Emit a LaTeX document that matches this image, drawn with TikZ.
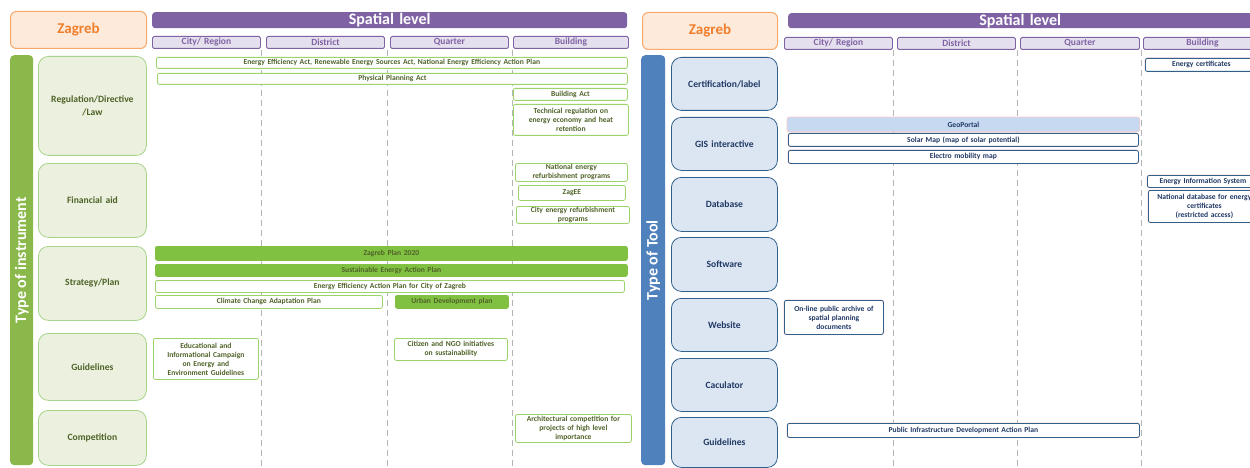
\documentclass[tikz,border=0pt]{standalone}
\usepackage{fontspec}
\setmainfont{Carlito}
\usepackage{xcolor}
\usetikzlibrary{calc}
\definecolor{zorange}{HTML}{F9A86A}
\definecolor{zorangel}{HTML}{FDEADB}
\definecolor{zorangetxt}{HTML}{F07F2C}
\definecolor{spurple}{HTML}{7F62A4}
\definecolor{spurplel}{HTML}{E5E0EE}
\definecolor{ibar}{HTML}{8AB84A}
\definecolor{irowfill}{HTML}{EBF1DE}
\definecolor{irowdraw}{HTML}{A5D38A}
\definecolor{itext}{HTML}{4F6228}
\definecolor{iitem}{HTML}{9BD46A}
\definecolor{ifill}{HTML}{80C141}
\definecolor{tbar}{HTML}{4F81BD}
\definecolor{trowfill}{HTML}{DCE6F2}
\definecolor{trowdraw}{HTML}{31608A}
\definecolor{ttext}{HTML}{1F3864}
\definecolor{tgeo}{HTML}{C6D9F1}
\definecolor{dashgray}{HTML}{B5B5B5}

\begin{document}
\begin{tikzpicture}[x=1pt,y=-1pt,
		every node/.style={inner sep=0pt, align=center},
		sz/.style 2 args={minimum width=#1pt, text width=#1pt, minimum height=#2pt, anchor=north west},
		city/.style={draw=zorange, fill=zorangel, line width=1pt, rounded corners=6pt, text=zorangetxt, font=\fontsize{15}{17}\selectfont\bfseries},
		level/.style={fill=spurple, rounded corners=3pt, text=white, font=\fontsize{16}{17}\selectfont\bfseries},
		colhead/.style={draw=spurple, fill=spurplel, line width=0.9pt, rounded corners=1.5pt, text=spurple, font=\fontsize{9.5}{10}\selectfont\bfseries},
		sidebar/.style={rounded corners=4pt},
		sidetext/.style={rotate=90, text=white, font=\fontsize{16}{17}\selectfont\bfseries},
		irow/.style={draw=irowdraw, fill=irowfill, line width=0.8pt, rounded corners=10pt, text=itext, font=\fontsize{9.6}{12.5}\selectfont\bfseries},
		iitm/.style={draw=iitem, fill=white, line width=0.8pt, rounded corners=2pt, text=itext, font=\fontsize{7.6}{9}\selectfont\bfseries},
		ifull/.style={iitm, draw=ifill, fill=ifill},
		trow/.style={draw=trowdraw, fill=trowfill, line width=0.8pt, rounded corners=10pt, text=ttext, font=\fontsize{9.6}{12.5}\selectfont\bfseries},
		titm/.style={preaction={draw=red!20, line width=1.5pt}, draw=trowdraw, fill=white, line width=0.8pt, rounded corners=2pt, text=ttext, font=\fontsize{7.6}{9}\selectfont\bfseries},
		tfull/.style={titm, preaction={}, draw=none, fill=tgeo},
		dashline/.style={draw=dashgray, dash pattern=on 6pt off 4pt, line width=0.6pt}]
	\clip (0,0) rectangle (1250,468);
	\useasboundingbox (0,0) rectangle (1250,468);
	
	\foreach \x in {261,387,512,893,1017,1141}{
		\draw[dashline] (\x,50) -- (\x,468);}
	
	\node[city, sz={136}{37}] (zl) at (10,11) {Zagreb};
	\node[level, sz={475}{16}] (sl) at (152,12) {Spatial level};
	\node[colhead, sz={108}{12}] (crl) at (152,36) {City/ Region};
	\node[colhead, sz={118}{12}] (dil) at (266,36) {District};
	\node[colhead, sz={118}{12}] (qul) at (390,36) {Quarter};
	\node[colhead, sz={115}{12}] (bul) at (513,36) {Building};
	
	\node[sidebar, fill=ibar, sz={23}{410}] (ibar) at (10,55) {};
	\node[sidetext] (itype) at (ibar.center) {Type of instrument};
	
	\node[irow, sz={108}{99}] (reg) at (38,56) {Regulation/Directive\\/Law};
	\node[irow, sz={108}{74}] (fin) at (38,163) {Financial aid};
	\node[irow, sz={108}{74}] (str) at (38,246) {Strategy/Plan};
	\node[irow, sz={108}{67}] (gui) at (38,333) {Guidelines};
	\node[irow, sz={108}{55}] (com) at (38,410) {Competition};
	
	\node[iitm, sz={471}{11}] (eea) at (156,57) {Energy Efficiency Act, Renewable Energy Sources Act, National Energy Efficiency Action Plan};
	\node[iitm, sz={470}{11}] (ppa) at (157,73) {Physical Planning Act};
	\node[iitm, sz={114}{12}] (ba) at (513,88) {Building Act};
	\node[iitm, sz={115}{31}] (tre) at (513,104) {Technical regulation on\\energy economy and heat\\retention};
	\node[iitm, sz={112}{18}] (ner) at (515,163) {National energy\\refurbishment programs};
	\node[iitm, sz={107}{15}] (zee) at (518,185) {ZagEE};
	\node[iitm, sz={113}{17}] (cer) at (516,206) {City energy refurbishment\\programs};
	\node[ifull, sz={472}{14}] (zp) at (155,246) {Zagreb Plan 2020};
	\node[ifull, sz={472}{12}] (seap) at (155,264) {Sustainable Energy Action Plan};
	\node[iitm, sz={469}{12}] (eeap) at (155,280) {Energy Efficiency Action Plan for City of Zagreb};
	\node[iitm, sz={227}{13}] (ccap) at (155,295) {Climate Change Adaptation Plan};
	\node[ifull, sz={113}{13}] (udp) at (395,295) {Urban Development plan};
	\node[iitm, sz={105}{41}] (eic) at (153,338) {Educational and\\Informational Campaign\\on Energy and\\Environment Guidelines};
	\node[iitm, sz={113}{22}] (ngo) at (394,338) {Citizen and NGO initiatives\\on sustainability};
	\node[iitm, sz={116}{28}] (arc) at (515,414) {Architectural competition for\\projects of high level\\importance};
	
	\node[city, sz={135}{37}] (zr) at (642,12) {Zagreb};
	\node[level, sz={464}{15}] (sr) at (788,13) {Spatial level};
	\node[colhead, sz={108}{12}] (crr) at (784,37) {City/ Region};
	\node[colhead, sz={118}{12}] (dir) at (897,37) {District};
	\node[colhead, sz={119}{12}] (qur) at (1020,37) {Quarter};
	\node[colhead, sz={118}{12}] (bur) at (1143,37) {Building};
	
	\node[sidebar, fill=tbar, sz={24}{410}] (tbar) at (641,55) {};
	\node[sidetext] (ttype) at (tbar.center) {Type of Tool};
	
	\node[trow, sz={106}{53}] (cert) at (671,57) {Certification/label};
	\node[trow, sz={106}{53}] (gis) at (671,117) {GIS interactive};
	\node[trow, sz={106}{54}] (db) at (671,177) {Database};
	\node[trow, sz={106}{54}] (sw) at (671,237) {Software};
	\node[trow, sz={106}{53}] (web) at (671,298) {Website};
	\node[trow, sz={106}{53}] (calc) at (671,358) {Caculator};
	\node[trow, sz={106}{50}] (tgui) at (671,417) {Guidelines};
	
	\node[titm, sz={112}{13}] (ec) at (1145,58) {Energy certificates};
	\node[tfull, sz={352}{14}] (geo) at (787,117) {GeoPortal};
	\node[titm, sz={350}{13}] (sol) at (788,133) {Solar Map (map of solar potential)};
	\node[titm, sz={350}{13}] (emm) at (788,150) {Electro mobility map};
	\node[titm, sz={111}{12}] (eis) at (1147,175) {Energy Information System};
	\node[titm, sz={112}{32}] (ndb) at (1148,190) {National database for energy\\certificates\\(restricted access)};
	\node[titm, sz={99}{34}] (ola) at (784,300) {On-line public archive of\\spatial planning\\documents};
	\node[titm, sz={352}{14}] (pid) at (787,423) {Public Infrastructure Development Action Plan};
\end{tikzpicture}
\end{document}
